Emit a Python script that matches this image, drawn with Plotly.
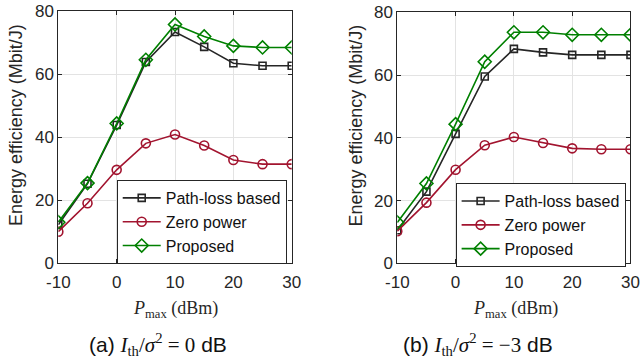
import plotly.graph_objects as go

x_dbm = [-10, -5, 0, 5, 10, 15, 20, 25, 30]

# (a) I_th/sigma^2 = 0 dB
a_pathloss = [12.3, 25.3, 43.9, 63.9, 73.4, 68.7, 63.5, 62.7, 62.7]
a_zero = [10.1, 19.1, 29.7, 38.1, 40.9, 37.4, 32.8, 31.5, 31.5]
a_proposed = [13.1, 25.5, 44.4, 64.6, 75.8, 72.0, 69.0, 68.5, 68.5]

# (b) I_th/sigma^2 = -3 dB
b_pathloss = [10.6, 22.9, 41.3, 59.6, 68.4, 67.3, 66.5, 66.5, 66.5]
b_zero = [10.3, 19.4, 29.9, 37.7, 40.3, 38.4, 36.7, 36.4, 36.4]
b_proposed = [13.1, 25.5, 44.4, 64.3, 73.7, 73.7, 72.9, 72.9, 72.9]

series_names = ["Path-loss based", "Zero power", "Proposed"]
colors = ["#262626", "#A2142F", "#008000"]
symbols = ["square-open", "circle-open", "diamond-open"]
sizes = [7, 9, 10]

x_ticks = [-10, 0, 10, 20, 30]
x_ticktext = ["-10", "0", "10", "20", "30"]
y_ticks = [0, 20, 40, 60, 80]

fig = go.Figure()

panels = [
    ("x", "y", "legend", [a_pathloss, a_zero, a_proposed]),
    ("x2", "y2", "legend2", [b_pathloss, b_zero, b_proposed]),
]
for xa, ya, lg, data in panels:
    for name, vals, c, s, sz in zip(series_names, data, colors, symbols, sizes):
        fig.add_trace(go.Scatter(
            x=x_dbm, y=vals, name=name, mode="lines+markers",
            xaxis=xa, yaxis=ya, legend=lg,
            line=dict(color=c, width=1.6),
            marker=dict(symbol=s, size=sz, color=c, line=dict(color=c, width=1.6)),
        ))

axis_common = dict(
    showline=True, mirror="ticks", linecolor="#262626", linewidth=1,
    ticks="inside", ticklen=4, tickcolor="#262626",
    showgrid=True, gridcolor="#e3e3e3", gridwidth=1, zeroline=False,
    automargin=False,
    tickfont=dict(family="Liberation Sans, Arial", size=17, color="#262626"),
)

fig.update_layout(
    width=641, height=362,
    margin=dict(l=0, r=0, t=0, b=0),
    paper_bgcolor="white", plot_bgcolor="white",
    showlegend=True,
    xaxis=dict(domain=[0.0910, 0.4551], range=[-10, 30], tickvals=x_ticks,
               ticktext=x_ticktext, anchor="y", ticklabelstandoff=3, **axis_common),
    yaxis=dict(domain=[0.2721, 0.969], range=[0, 80], tickvals=y_ticks,
               anchor="x", **axis_common),
    xaxis2=dict(domain=[0.6198, 0.9836], range=[-10, 30], tickvals=x_ticks,
                ticktext=x_ticktext, anchor="y2", ticklabelstandoff=3, **axis_common),
    yaxis2=dict(domain=[0.2721, 0.9655], range=[0, 80], tickvals=y_ticks,
                anchor="x2", **axis_common),
    legend=dict(x=0.4473, y=0.2707, xanchor="right", yanchor="bottom",
                bgcolor="white", bordercolor="#262626", borderwidth=1,
                font=dict(family="Liberation Sans, Arial", size=16, color="#111111"),
                itemwidth=38, tracegroupgap=0),
    legend2=dict(x=0.976, y=0.262, xanchor="right", yanchor="bottom",
                 bgcolor="white", bordercolor="#262626", borderwidth=1,
                 font=dict(family="Liberation Sans, Arial", size=16, color="#111111"),
                 itemwidth=38, tracegroupgap=0),
)

# axis titles
xtitle = "<i>P</i><sub>max</sub> (dBm)"
ytitle = "Energy efficiency (Mbit/J)"
for xc in [175 / 641, 515 / 641]:
    fig.add_annotation(x=xc, y=1 - 309 / 362, xref="paper", yref="paper",
                       xanchor="center", yanchor="middle", text=xtitle, showarrow=False,
                       font=dict(family="Liberation Serif, Times New Roman", size=18,
                                 color="#262626"))
for xc in [15.5 / 641, 355 / 641]:
    fig.add_annotation(x=xc, y=1 - 125.5 / 362, xref="paper", yref="paper",
                       xanchor="center", yanchor="middle", text=ytitle, showarrow=False,
                       textangle=-90,
                       font=dict(family="Liberation Sans, Arial", size=18, color="#262626"))

serif = "font-family:'Liberation Serif','Times New Roman'"
cap_a = ("(a) <span style=\"" + serif + "\"><i>I</i><sub>th</sub>/<i>σ</i><sup>2</sup> = 0</span> dB")
cap_b = ("(b) <span style=\"" + serif + "\"><i>I</i><sub>th</sub>/<i>σ</i><sup>2</sup> = −3</span> dB")

for xc, txt in [(158 / 641, cap_a), (478 / 641, cap_b)]:
    fig.add_annotation(x=xc, y=1 - 344 / 362, xref="paper", yref="paper",
                       xanchor="center", yanchor="middle",
                       text=txt, showarrow=False,
                       font=dict(family="Liberation Sans, Arial", size=21, color="#111111"))

fig.write_html(
    "out.html",
    config={"displayModeBar": False},
    post_script="document.body.style.margin='0';document.body.style.overflow='hidden';",
)
